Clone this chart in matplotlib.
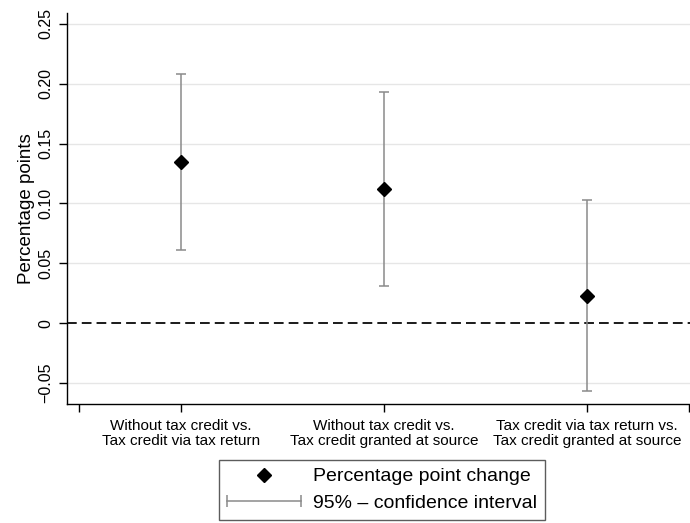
import numpy as np
import matplotlib.pyplot as plt
from matplotlib.lines import Line2D
from matplotlib.legend_handler import HandlerLine2D

plt.rcParams['font.family'] = ['Liberation Sans', 'DejaVu Sans']

# Valores
etiquetas = ['Without tax credit vs.\nTax credit via tax return',
             'Without tax credit vs.\nTax credit granted at source',
             'Tax credit via tax return vs.\nTax credit granted at source']
efecto = [0.135, 0.112, 0.0225]
ic_bajo = [0.061, 0.031, -0.0567]
ic_alto = [0.208, 0.193, 0.1025]
yticks = [-0.05, 0, 0.05, 0.10, 0.15, 0.20, 0.25]
yticklabels = ['\u22120.05', '0', '0.05', '0.10', '0.15', '0.20', '0.25']

x = np.arange(1, len(efecto) + 1)
efecto = np.array(efecto)
err = [efecto - np.array(ic_bajo), np.array(ic_alto) - efecto]

fig = plt.figure(figsize=(6.9, 5.23), dpi=100)
ax = fig.add_axes([0.097, 0.2275, 0.91, 0.7475])

gris = '#8a8a8a'
for yv in yticks:
    if yv != 0:
        ax.axhline(yv, color='#e6e6e6', lw=1.0, zorder=0)
ax.axhline(0, color='#1a1a1a', lw=1.4, linestyle=(0, (5, 2.6)), zorder=1)

ax.errorbar(x, efecto, yerr=err, fmt='none', ecolor=gris, elinewidth=1.1,
            capsize=3.6, capthick=1.1, zorder=2)
ax.plot(x, efecto, 'D', color='black', markersize=7, zorder=3)

ax.set_xlim(0.44, 3.53)
ax.set_ylim(-0.0675, 0.259)
ax.set_yticks(yticks)
ax.set_yticklabels(yticklabels, rotation=90, va='center', fontsize=11.5)
ax.set_xticks([0.5, 1, 2, 3, 3.5])
ax.set_xticklabels([''] + etiquetas + [''], fontsize=11, linespacing=1.05)
ax.tick_params(direction='out', length=6, width=1, color='black', pad=4)
ax.tick_params(axis='x', pad=5)
ax.set_ylabel('Percentage points', fontsize=13.5, labelpad=2)

for s in ['top', 'right']:
    ax.spines[s].set_visible(False)
for s in ['left', 'bottom']:
    ax.spines[s].set_linewidth(1.0)

h1 = Line2D([], [], marker='D', color='black', linestyle='none', markersize=7)
h2 = Line2D([], [], color=gris, lw=1.1, marker='|', markersize=8,
            markeredgewidth=1.1)
leg = fig.legend([h1, h2], ['Percentage point change', '95% \u2013 confidence interval'],
                 loc='upper center', bbox_to_anchor=(382 / 690, 1 - 460 / 523),
                 fontsize=14, frameon=True, fancybox=False, edgecolor='#333333',
                 handlelength=3.8, handletextpad=0.6, borderpad=0.4,
                 labelspacing=0.45, borderaxespad=0,
                 handler_map={h2: HandlerLine2D(numpoints=2, marker_pad=0)})
leg.get_frame().set_linewidth(1.0)

fig.savefig('out.png', dpi=100)
